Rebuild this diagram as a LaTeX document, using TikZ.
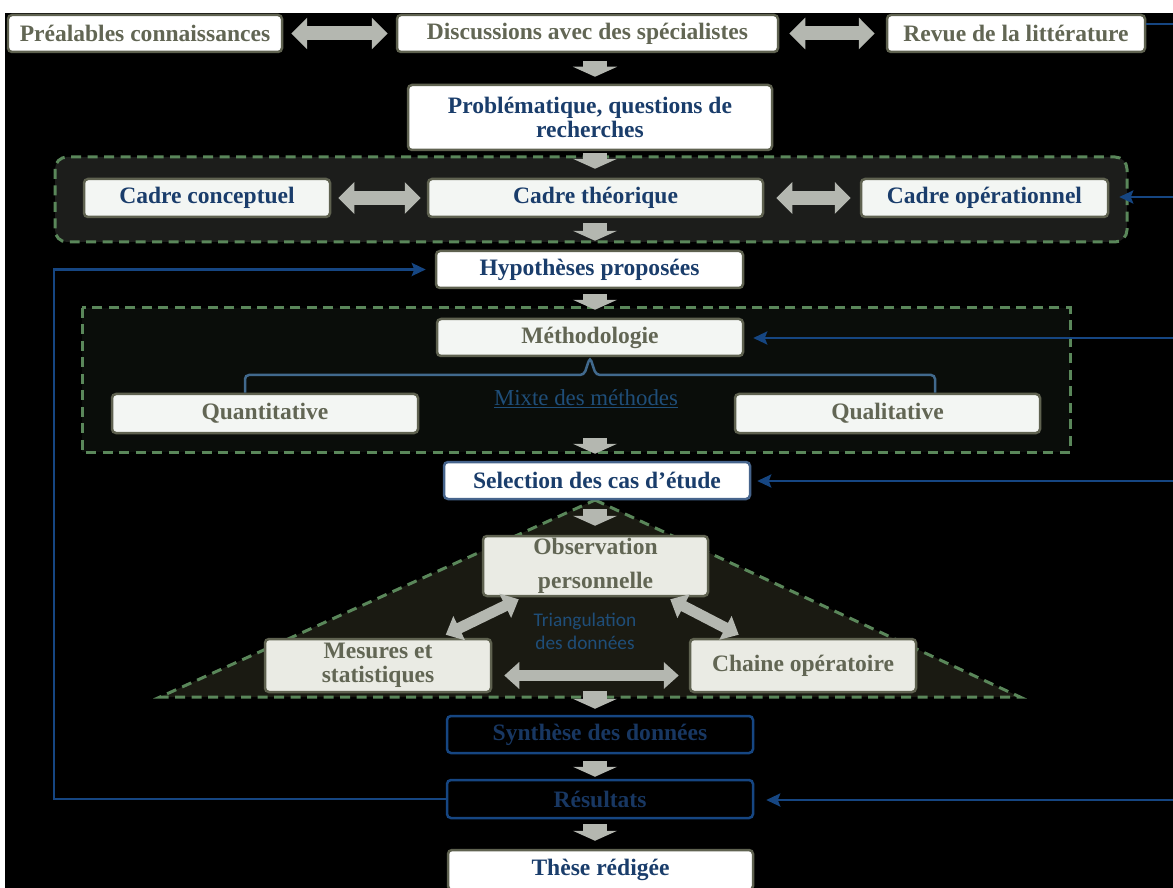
\documentclass[tikz,border=0pt]{standalone}
\usepackage{fontspec}
\setmainfont{Liberation Serif}
\newfontfamily\trifont{Carlito}
\usetikzlibrary{arrows.meta,positioning}

\definecolor{olivetxt}{RGB}{98,102,84}
\definecolor{navytxt}{RGB}{26,61,107}
\definecolor{boxline}{RGB}{95,98,80}
\definecolor{selline}{RGB}{70,100,140}
\definecolor{fbblue}{RGB}{22,70,130}
\definecolor{linkblue}{RGB}{31,78,121}
\definecolor{dimblue}{RGB}{24,55,98}
\definecolor{paleA}{RGB}{243,246,243}
\definecolor{paleB}{RGB}{234,235,228}
\definecolor{arrowgray}{RGB}{180,183,176}
\definecolor{dashgreen}{RGB}{90,135,90}
\definecolor{regA}{RGB}{28,29,27}
\definecolor{regB}{RGB}{10,13,10}
\definecolor{trifill}{RGB}{26,26,18}

\begin{document}
\begin{tikzpicture}[x=0.02cm,y=-0.02cm,
  sz/.style 2 args={minimum width=#1*0.02cm,minimum height=#2*0.02cm},
  box/.style={draw=boxline,line width=0.05cm,rounded corners=0.08cm,fill=white,inner sep=0pt,align=center,
    font=\fontsize{13.4}{13.8}\selectfont\bfseries},
  greybox/.style={box,text=olivetxt},
  bluebox/.style={box,text=navytxt},
  darkbox/.style={box,draw=fbblue,fill=black,text=dimblue},
  region/.style={draw=dashgreen,line width=0.06cm,dash pattern=on 0.2cm off 0.13cm},
  dblarr/.style={arrowgray,line width=0.28cm,{Triangle[length=0.32cm,width=0.62cm]}-{Triangle[length=0.32cm,width=0.62cm]},
    shorten <=0.16cm,shorten >=0.16cm},
  smalldbl/.style={arrowgray,line width=0.22cm,{Triangle[length=0.3cm,width=0.52cm]}-{Triangle[length=0.3cm,width=0.52cm]}},
  downarr/.style={arrowgray,line width=0.48cm,-{Triangle[length=0.2cm,width=0.88cm]}},
  feedback/.style={fbblue,line width=0.05cm,-{Stealth[length=0.28cm,width=0.26cm,inset=0.05cm]}}]

\fill[white] (0,0) rectangle (1173,888);
\fill[black] (5,13) rectangle (1173,888);
\useasboundingbox (0,0) rectangle (1173,888);

% dashed groups
\draw[region,fill=regA,rounded corners=0.24cm] (55,157) rectangle (1127,242);
\draw[region,fill=regB] (82,308) rectangle (1070,452);
\draw[region,fill=trifill] (595,500) -- (1020,697) -- (160,697) -- cycle;

% boxes
\node[greybox,sz={274}{37}] (prea) at (145,33.5) {Préalables connaissances};
\node[greybox,sz={381}{37}] (disc) at (587.5,33.5) {Discussions avec des spécialistes};
\node[greybox,sz={258}{37}] (revue) at (1016,33.5) {Revue de la littérature};
\node[bluebox,sz={364}{65}] (prob) at (590,117.5) {Problématique, questions de\\recherches};
\node[bluebox,fill=paleA,sz={246}{38}] (concept) at (207,198) {Cadre conceptuel};
\node[bluebox,fill=paleA,sz={335}{38}] (theo) at (595.5,198) {Cadre théorique};
\node[bluebox,fill=paleA,sz={247}{38}] (opera) at (984.5,198) {Cadre opérationnel};
\node[bluebox,sz={307}{37}] (hyp) at (589.5,269.5) {Hypothèses proposées};
\node[greybox,fill=paleA,sz={306}{37}] (metho) at (590,337.5) {Méthodologie};
\node[greybox,fill=paleA,sz={306}{39}] (quanti) at (265,413.5) {Quantitative};
\node[greybox,fill=paleA,sz={305}{39}] (quali) at (887.5,413.5) {Qualitative};
\node[text=linkblue,font=\fontsize{13}{14}\selectfont] (mixte) at (586,399) {\underline{Mixte des méthodes}};
\node[bluebox,draw=selline,sz={306}{37}] (sel) at (597,480.5) {Selection des cas d’étude};
\node[greybox,fill=paleB,sz={225}{60},font=\fontsize{13.4}{19}\selectfont\bfseries] (obs) at (595.5,566) {Observation\\personnelle};
\node[greybox,fill=paleB,sz={226}{53},font=\fontsize{13.4}{13.4}\selectfont\bfseries] (mes) at (378,665.5) {Mesures et\\statistiques};
\node[greybox,fill=paleB,sz={226}{53}] (chaine) at (803,665.5) {Chaine opératoire};
\node[text=linkblue,font=\trifont\fontsize{11}{13}\selectfont,align=center] (trian) at (585,631) {Triangulation\\des données};
\node[darkbox,sz={306}{37}] (synth) at (600,734.5) {Synthèse des données};
\node[darkbox,sz={306}{38}] (res) at (600,799) {Résultats};
\node[bluebox,sz={305}{40}] (these) at (600.5,870) {Thèse rédigée};

% loose ends on the edges
\coordinate (erevue) at (1173,24);
\coordinate (eopera) at (1173,197);
\coordinate (emetho) at (1173,338);
\coordinate (esel) at (1173,481);
\coordinate (eres) at (1173,800);
\coordinate (lturn) at (54,799);

% grey block arrows
\draw[dblarr] (prea) -- (disc);
\draw[dblarr,shorten <=0.2cm,shorten >=0.22cm] (disc) -- (revue);
\draw[dblarr,shorten <=0.14cm,shorten >=0.12cm] (concept) -- (theo);
\draw[dblarr,shorten <=0.24cm,shorten >=0.18cm] (theo) -- (opera);
\foreach \a/\b/\s/\e in {disc/prob/0.16cm/0.14cm, prob/theo/0.04cm/0.18cm, theo/hyp/0.1cm/0.18cm,
    hyp/metho/0.1cm/0.16cm, metho/sel/1.62cm/0.14cm, sel/obs/0.18cm/0.18cm,
    obs/synth/1.88cm/0.12cm, synth/res/0.14cm/0.04cm, res/these/0.1cm/0.16cm}
  \draw[downarr,shorten <=\s,shorten >=\e] (\a.south -| 595,0) -- (\b.north -| 595,0);
\draw[smalldbl] ([xshift=-0.78cm,yshift=-0.04cm]obs.south east) -- ([xshift=1cm,yshift=0.06cm]chaine.north west);
\draw[smalldbl] ([xshift=0.74cm,yshift=-0.04cm]obs.south west) -- ([xshift=3.64cm,yshift=0.06cm]mes.north west);
\draw[smalldbl,shorten <=0.24cm,shorten >=0.2cm] ([yshift=-0.2cm]mes.east) -- ([yshift=-0.2cm]chaine.west);

% bracket of the methods
\draw[linkblue!85!white,line width=0.05cm,rounded corners=0.08cm]
  (quanti.north -| 245,0) |- (584,375) -- (metho.south) -- (596,375) -| (quali.north -| 935,0);

% blue feedback lines
\draw[fbblue,line width=0.05cm] (revue.east |- erevue) -- (erevue);
\draw[feedback,shorten >=0.2cm] (eopera) -- (opera.east |- eopera);
\draw[feedback,shorten >=0.18cm] (emetho) -- (metho.east |- emetho);
\draw[feedback,shorten >=0.12cm] (esel) -- (sel.east |- esel);
\draw[feedback,shorten >=0.24cm] (eres) -- (res.east |- eres);
\draw[feedback,shorten >=0.18cm] (res.west) -- (lturn) |- (hyp.west);
\end{tikzpicture}
\end{document}
